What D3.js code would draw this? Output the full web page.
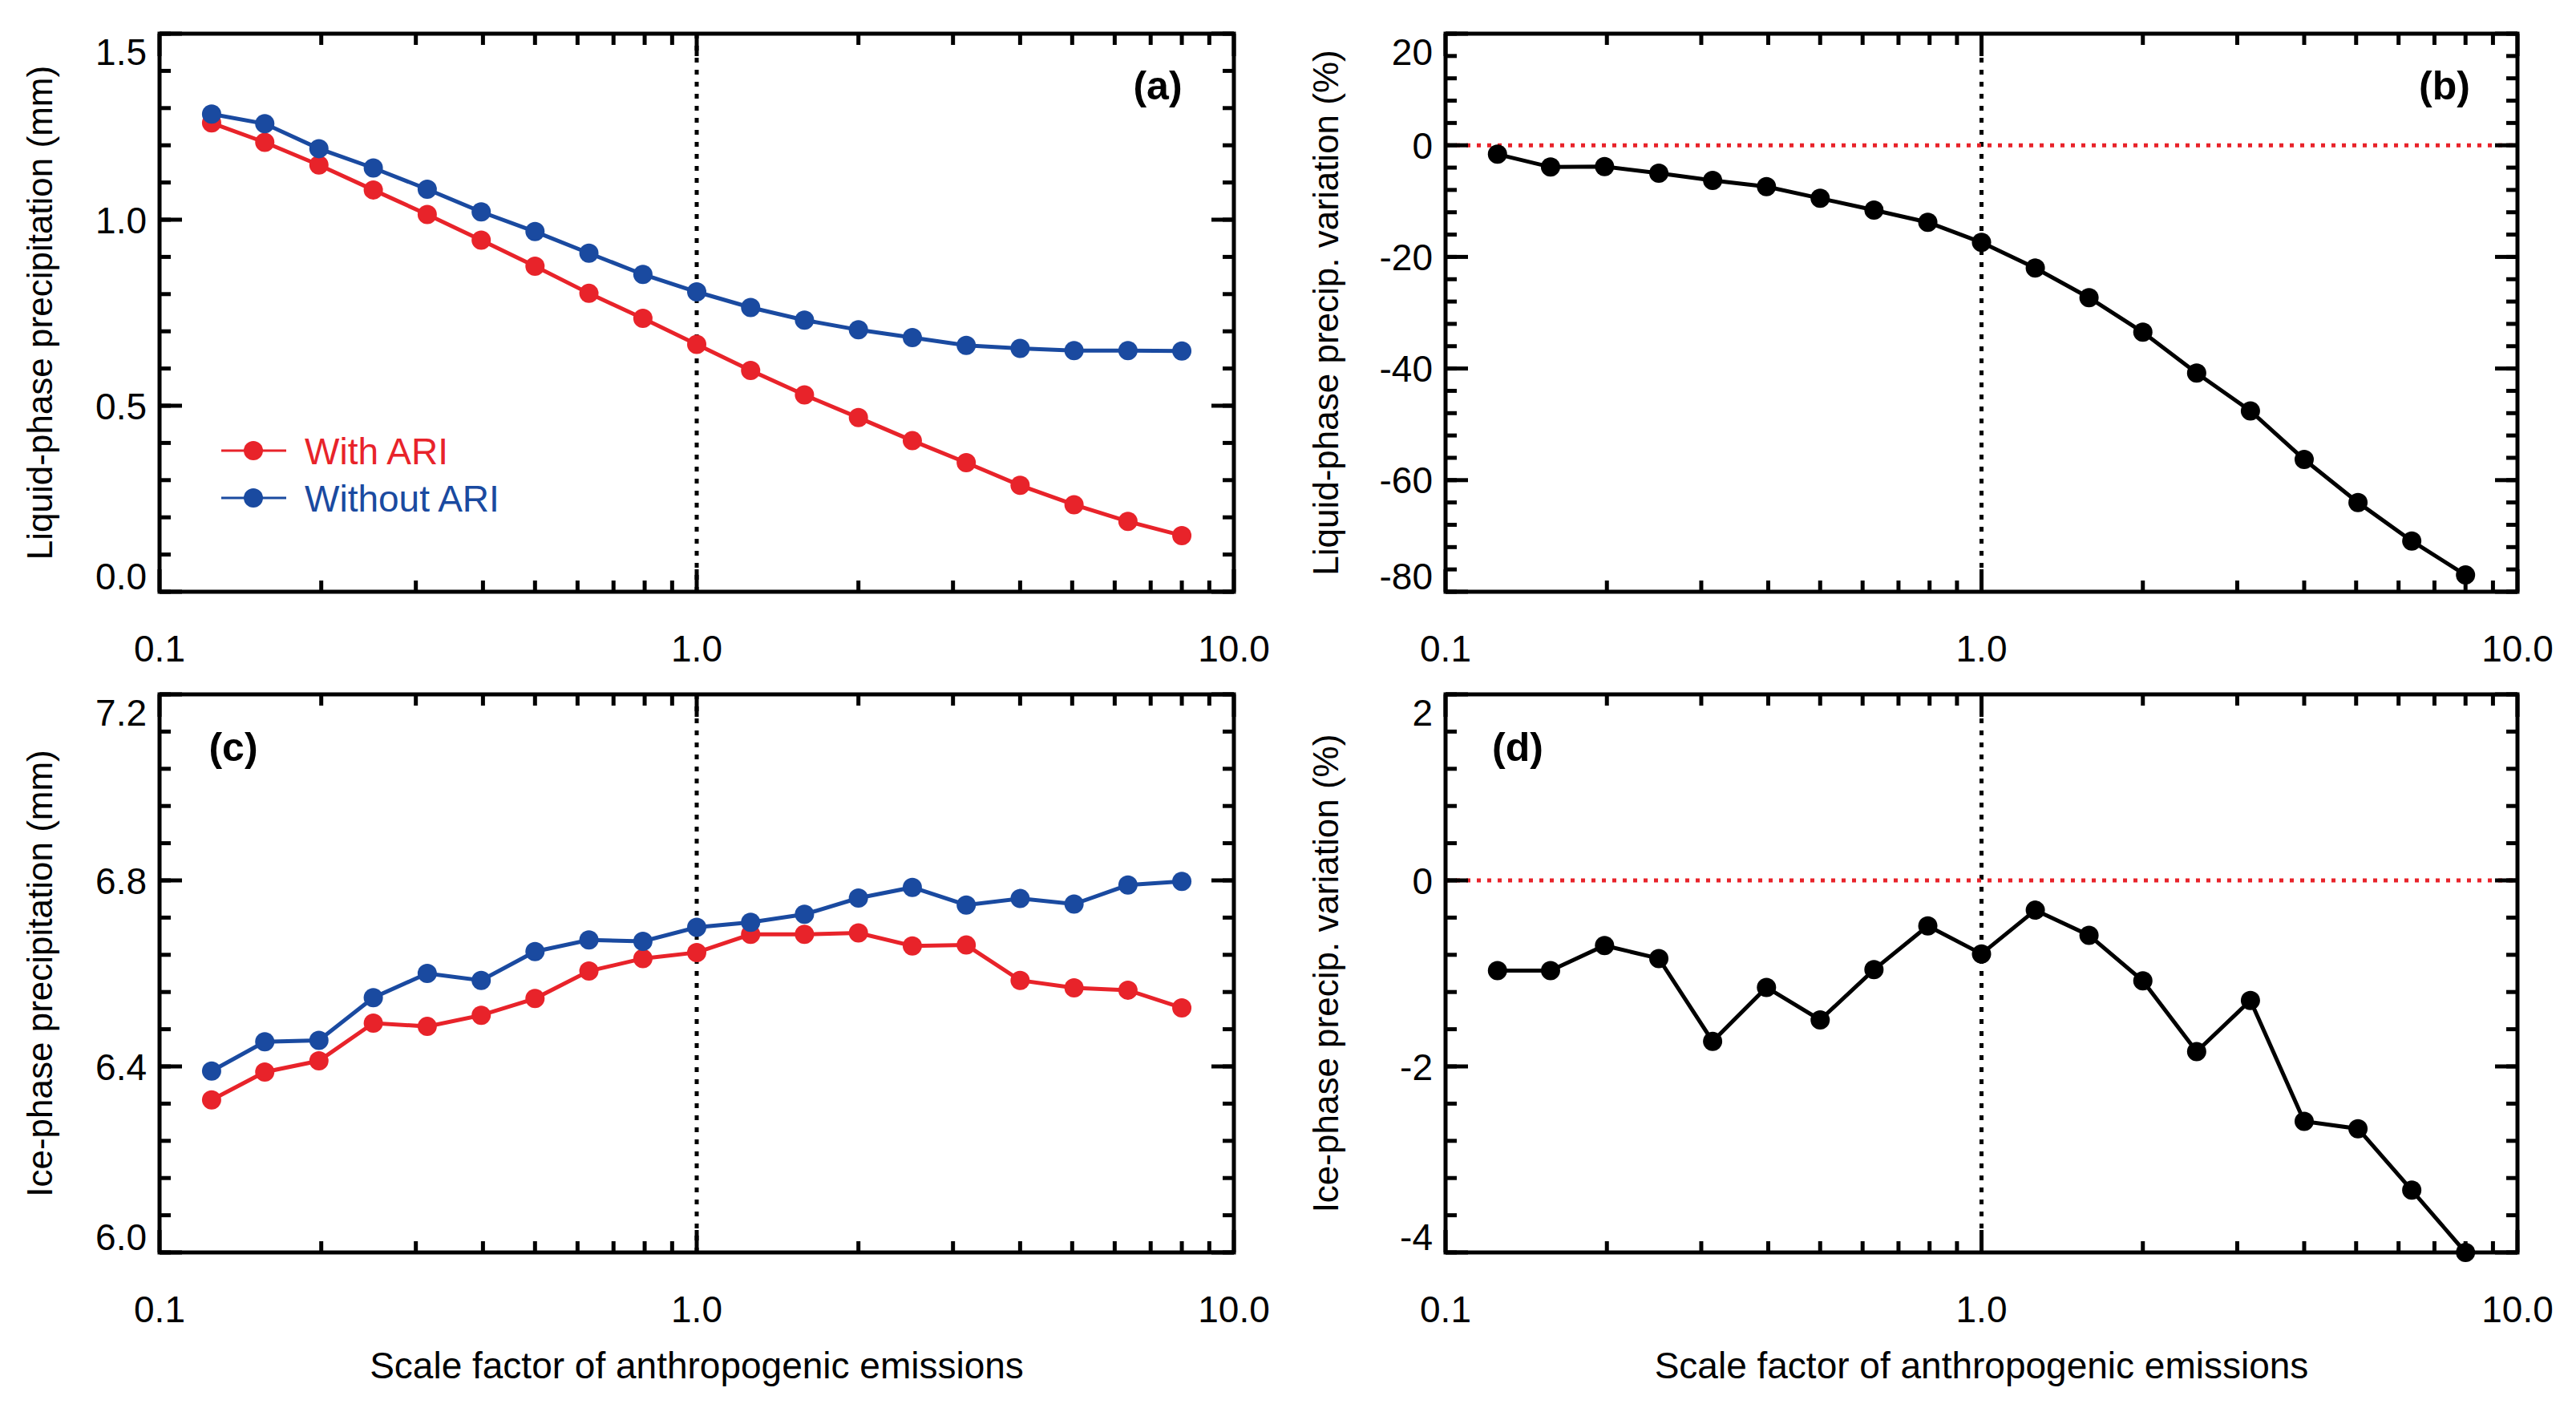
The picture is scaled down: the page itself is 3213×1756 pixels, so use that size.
<!DOCTYPE html>
<html>
<head>
<meta charset="utf-8">
<script src="https://cdn.jsdelivr.net/npm/d3@7"></script>
<style>
  body { margin: 0; background: #fff; }
  svg { display: block; }
</style>
</head>
<body>
<svg id="viz"></svg>
<script>
// ---------------------------
// Data
// ---------------------------

const scaleFactor = [0.125, 0.157, 0.198, 0.25, 0.315, 0.397, 0.5, 0.63, 0.794, 1,
                     1.26, 1.587, 2, 2.52, 3.175, 4, 5.04, 6.35, 8];

const liquidWith    = [1.260, 1.208, 1.147, 1.080, 1.014, 0.945, 0.875, 0.802, 0.735, 0.665,
                       0.595, 0.529, 0.468, 0.406, 0.347, 0.286, 0.234, 0.189, 0.151];
const liquidWithout = [1.284, 1.258, 1.191, 1.139, 1.082, 1.021, 0.968, 0.910, 0.853, 0.806,
                       0.764, 0.730, 0.704, 0.683, 0.662, 0.654, 0.648, 0.648, 0.647];
const liquidVar     = [-1.6, -3.9, -3.8, -5.0, -6.3, -7.4, -9.5, -11.6, -13.8, -17.4,
                       -22.0, -27.3, -33.5, -40.8, -47.6, -56.3, -64.0, -70.9, -77.0];

const iceWith       = [6.328, 6.388, 6.412, 6.493, 6.486, 6.510, 6.546, 6.605, 6.632, 6.645,
                       6.684, 6.684, 6.687, 6.659, 6.661, 6.585, 6.569, 6.564, 6.526];
const iceWithout    = [6.390, 6.453, 6.456, 6.548, 6.600, 6.585, 6.647, 6.672, 6.669, 6.699,
                       6.710, 6.727, 6.762, 6.785, 6.747, 6.761, 6.749, 6.790, 6.798];
const iceVar        = [-0.97, -0.97, -0.70, -0.84, -1.73, -1.15, -1.50, -0.96, -0.49, -0.79,
                       -0.32, -0.59, -1.08, -1.84, -1.29, -2.59, -2.67, -3.33, -4.0];

const xTickLabels = ["0.1", "1.0", "10.0"];
const legendLabels = ["With ARI", "Without ARI"];

const RED = "#e8232a", BLUE = "#1a4aa0", BLACK = "#000";

// ---------------------------
// Create SVG
// ---------------------------

const width = 3213, height = 1756;
const svg = d3.select("#viz").attr("width", width).attr("height", height)
    .attr("viewBox", `0 0 ${width} ${height}`);

const tickFont = "'Liberation Sans Narrow', 'Liberation Sans', Arial, sans-serif";
const titleFont = "'Liberation Sans', Arial, sans-serif";

// plain hyphen minus, like the original figure
const fmt1 = v => d3.format(".1f")(v).replace("\u2212", "-");
const fmt0 = v => d3.format("d")(v).replace("\u2212", "-");

const panels = [
  { left: 199,  top: 42,  right: 1539, bottom: 738,  domain: [0, 1.5],   major: 0.5, minor: 0.1,
    fmt: fmt1, title: "Liquid-phase precipitation (mm)", tag: "(a)", tagX: 1444, tagY: 106,
    series: [{ v: liquidWith, c: RED }, { v: liquidWithout, c: BLUE }], zero: false, xTitle: false, legend: true },
  { left: 1803, top: 42,  right: 3140, bottom: 738,  domain: [-80, 20],  major: 20,  minor: 4,
    fmt: fmt0, title: "Liquid-phase precip. variation (%)", tag: "(b)", tagX: 3049, tagY: 106,
    series: [{ v: liquidVar, c: BLACK }], zero: true, xTitle: false },
  { left: 199,  top: 866, right: 1539, bottom: 1562, domain: [6.0, 7.2], major: 0.4, minor: 0.08,
    fmt: fmt1, title: "Ice-phase precipitation (mm)", tag: "(c)", tagX: 291, tagY: 931,
    series: [{ v: iceWith, c: RED }, { v: iceWithout, c: BLUE }], zero: false, xTitle: true },
  { left: 1803, top: 866, right: 3140, bottom: 1562, domain: [-4, 2],    major: 2,   minor: 0.4,
    fmt: fmt0, title: "Ice-phase precip. variation (%)", tag: "(d)", tagX: 1893, tagY: 931,
    series: [{ v: iceVar, c: BLACK }], zero: true, xTitle: true }
];

function range(a, b, step) {
  const out = [], n = Math.round((b - a) / step);
  for (let i = 0; i <= n; i++) out.push(+(a + i * step).toFixed(6));
  return out;
}

const xMinor = [0.2,0.3,0.4,0.5,0.6,0.7,0.8,0.9,2,3,4,5,6,7,8,9];
const xMajor = [0.1, 1, 10];

panels.forEach(p => {
  const g = svg.append("g");
  const x = d3.scaleLog().domain([0.1, 10]).range([p.left, p.right]);
  const y = d3.scaleLinear().domain(p.domain).range([p.bottom, p.top]);

  // reference lines
  g.append("line").attr("x1", x(1)).attr("x2", x(1)).attr("y1", p.top).attr("y2", p.bottom)
    .attr("stroke", BLACK).attr("stroke-width", 5).attr("stroke-dasharray", "6,9");
  if (p.zero) {
    g.append("line").attr("x1", p.left).attr("x2", p.right).attr("y1", y(0)).attr("y2", y(0))
      .attr("stroke", "#e8232a").attr("stroke-width", 5).attr("stroke-dasharray", "5,8");
  }

  // series
  p.series.forEach(s => {
    const pts = scaleFactor.map((d, i) => [d, s.v[i]]);
    g.append("path").datum(pts)
      .attr("d", d3.line().x(d => x(d[0])).y(d => y(d[1])))
      .attr("fill", "none").attr("stroke", s.c).attr("stroke-width", 5);
    g.selectAll(null).data(pts).enter().append("circle")
      .attr("cx", d => x(d[0])).attr("cy", d => y(d[1])).attr("r", 12).attr("fill", s.c);
  });

  // frame
  g.append("rect").attr("x", p.left).attr("y", p.top)
    .attr("width", p.right - p.left).attr("height", p.bottom - p.top)
    .attr("fill", "none").attr("stroke", BLACK).attr("stroke-width", 5);

  // ticks (inward on all sides)
  const yMajor = range(p.domain[0], p.domain[1], p.major);
  const yMinor = range(p.domain[0], p.domain[1], p.minor);
  const tick = (x1, y1, x2, y2) => g.append("line").attr("x1", x1).attr("y1", y1)
    .attr("x2", x2).attr("y2", y2).attr("stroke", BLACK).attr("stroke-width", 5);
  yMinor.forEach(v => { tick(p.left, y(v), p.left + 14, y(v)); tick(p.right, y(v), p.right - 14, y(v)); });
  yMajor.forEach(v => { tick(p.left, y(v), p.left + 28, y(v)); tick(p.right, y(v), p.right - 28, y(v)); });
  xMinor.forEach(v => { tick(x(v), p.bottom, x(v), p.bottom - 14); tick(x(v), p.top, x(v), p.top + 14); });
  xMajor.forEach(v => { tick(x(v), p.bottom, x(v), p.bottom - 28); tick(x(v), p.top, x(v), p.top + 28); });

  // y tick labels (end labels nudged inward like the original)
  yMajor.forEach((v, i) => {
    let yy = y(v);
    if (i === 0) yy -= 20;
    if (i === yMajor.length - 1) yy += 22;
    g.append("text").attr("x", p.left - 16).attr("y", yy).attr("dy", "0.36em")
      .attr("text-anchor", "end").attr("font-family", tickFont).attr("font-size", 46)
      .text(p.fmt(v));
  });

  // x tick labels
  xMajor.forEach((v, i) => {
    g.append("text").attr("x", x(v)).attr("y", p.bottom + 70).attr("dy", "0.36em")
      .attr("text-anchor", "middle").attr("font-family", tickFont).attr("font-size", 46)
      .text(xTickLabels[i]);
  });

  // y title
  const cy = (p.top + p.bottom) / 2;
  g.append("text").attr("transform", `translate(${p.left - 150},${cy}) rotate(-90)`)
    .attr("dy", "0.36em").attr("text-anchor", "middle").attr("font-family", titleFont)
    .attr("font-size", 44).text(p.title);

  if (p.xTitle) {
    g.append("text").attr("x", (p.left + p.right) / 2).attr("y", p.bottom + 140).attr("dy", "0.36em")
      .attr("text-anchor", "middle").attr("font-family", tickFont).attr("font-size", 46)
      .text("Scale factor of anthropogenic emissions");
  }

  // panel tag
  g.append("text").attr("x", p.tagX).attr("y", p.tagY).attr("dy", "0.36em")
    .attr("text-anchor", "middle").attr("font-family", tickFont).attr("font-weight", "bold")
    .attr("font-size", 50).text(p.tag);

  // legend
  if (p.legend) {
    [RED, BLUE].forEach((c, i) => {
      const ly = 562 + i * 59;
      g.append("line").attr("x1", 276).attr("x2", 357).attr("y1", ly).attr("y2", ly)
        .attr("stroke", c).attr("stroke-width", 3);
      g.append("circle").attr("cx", 316).attr("cy", ly).attr("r", 12).attr("fill", c);
      g.append("text").attr("x", 380).attr("y", ly).attr("dy", "0.36em")
        .attr("font-family", tickFont).attr("font-size", 46).attr("fill", c).text(legendLabels[i]);
    });
  }
});
</script>
</body>
</html>
